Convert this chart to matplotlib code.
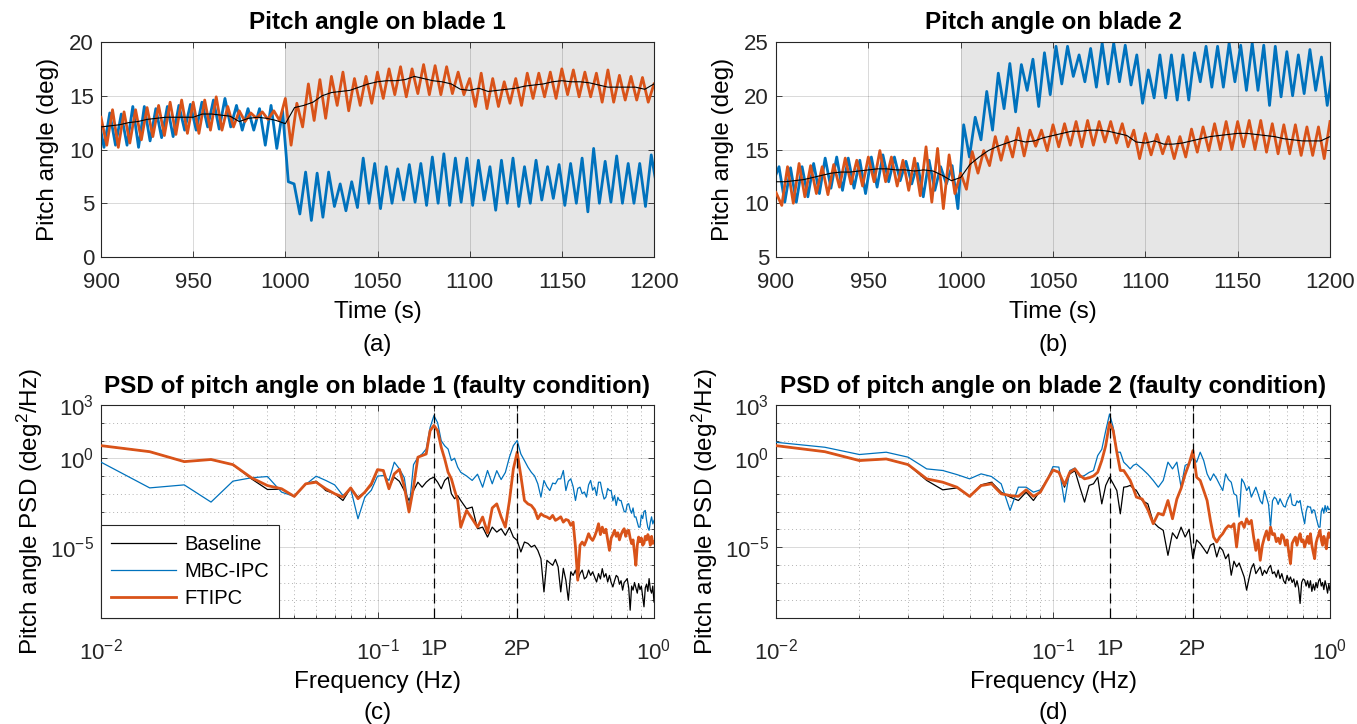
import numpy as np
import matplotlib
matplotlib.use("Agg")
import matplotlib.pyplot as plt

plt.rcParams["font.family"] = ["Liberation Sans", "DejaVu Sans"]
plt.rcParams["mathtext.fontset"] = "custom"
plt.rcParams["mathtext.rm"] = "Liberation Sans"
plt.rcParams["mathtext.it"] = "Liberation Sans:italic"
plt.rcParams["mathtext.bf"] = "Liberation Sans:bold"

#----------------------------------------------------------------
# Time series data (deg)
#----------------------------------------------------------------
t_ft = 900 + 3.125 * np.arange(97)       # FTIPC sample times
t_mbc = 898.5 + 3.125 * np.arange(98)    # MBC-IPC sample times
t_base = np.arange(900, 1201, 5)         # baseline sample times

ft_b1 = [13.0, 10.4, 13.7, 10.2, 13.5, 10.6, 13.7, 10.9, 13.9, 11.2,
         14.1, 11.3, 14.4, 11.4, 14.6, 11.5, 14.4, 11.5, 14.6, 11.8,
         14.9, 11.8, 14.0, 12.1, 13.6, 12.6, 13.4, 12.9, 13.5, 12.8,
         13.6, 12.7, 14.75, 10.4, 14.3, 12.1, 16.1, 12.7, 16.5, 12.9,
         16.8, 14.1, 17.2, 13.6, 16.6, 14.1, 16.8, 14.3, 17.2, 14.75,
         17.5, 15.1, 17.7, 14.9, 17.5, 15.2, 17.9, 15.1, 17.8, 15.1,
         17.7, 15.2, 17.2, 15.1, 16.6, 14.0, 17.1, 13.8, 16.6, 14.0,
         16.3, 14.3, 16.6, 14.1, 17.1, 14.75, 17.1, 14.9, 17.2, 14.75,
         17.5, 15.1, 17.4, 14.9, 17.2, 14.9, 17.1, 14.4, 17.4, 14.4,
         16.9, 14.6, 16.8, 14.6, 16.7, 14.4, 16.1]

mbc_b1 = [13.0, 10.2, 13.4, 10.4, 13.3, 10.4, 14.0, 10.2, 14.0, 10.8,
          13.8, 11.1, 14.0, 11.2, 14.1, 11.8, 14.2, 11.8, 14.4, 12.1,
          14.6, 11.9, 14.75, 12.1, 14.1, 11.8, 13.8, 11.8, 13.8, 10.4,
          14.1, 10.1, 13.6, 7.0, 6.8, 4.0, 7.9, 3.4, 7.8, 3.7,
          7.9, 4.7, 6.8, 4.3, 7.0, 4.6, 9.2, 5.0, 8.7, 4.5,
          8.4, 5.0, 8.2, 5.3, 8.6, 5.1, 8.7, 4.8, 9.3, 5.0,
          9.6, 4.8, 9.2, 5.1, 9.2, 4.8, 9.0, 5.3, 8.4, 4.35,
          9.0, 5.0, 9.2, 4.7, 8.4, 5.0, 9.0, 5.3, 8.4, 5.45,
          8.6, 4.8, 8.7, 5.0, 9.2, 4.2, 10.1, 5.0, 8.9, 5.1,
          9.4, 5.0, 8.7, 5.0, 8.7, 4.7, 9.5, 6.4]

base_b1 = [12.1, 12.2, 12.3, 12.5, 12.6, 12.8, 12.9, 13.0, 13.0, 13.0,
           13.0, 13.3, 13.3, 13.2, 13.1, 12.6, 12.9, 13.0, 12.9, 12.7,
           12.4, 13.9, 14.1, 14.4, 15.0, 15.3, 15.4, 15.5, 15.8, 16.1,
           16.3, 16.4, 16.4, 16.5, 16.8, 16.6, 16.4, 16.3, 16.1, 15.6,
           15.5, 15.7, 15.4, 15.5, 15.6, 15.7, 15.9, 16.0, 16.1, 16.3,
           16.4, 16.3, 16.3, 16.2, 16.0, 15.8, 15.8, 15.8, 15.8, 15.6,
           16.1]

ft_b2 = [11.0, 9.8, 13.4, 10.0, 13.7, 10.6, 13.5, 10.9, 13.4, 10.8,
         13.6, 11.5, 14.2, 11.8, 14.0, 11.6, 14.3, 12.0, 14.9, 12.0,
         14.3, 11.6, 14.0, 11.2, 14.2, 10.7, 15.25, 10.1, 15.1, 9.5,
         14.5, 10.9, 12.8, 11.3, 14.8, 12.8, 14.9, 13.5, 16.2, 14.0,
         16.2, 14.3, 17.0, 14.4, 16.8, 15.3, 16.8, 14.9, 17.3, 15.25,
         17.4, 15.4, 17.6, 15.25, 17.7, 15.4, 17.6, 15.7, 17.6, 15.6,
         17.4, 15.25, 16.8, 14.15, 16.5, 14.5, 16.4, 14.6, 16.2, 14.15,
         16.2, 14.3, 16.9, 14.75, 17.1, 14.9, 17.4, 15.0, 17.6, 15.0,
         17.6, 15.25, 17.7, 15.0, 17.7, 14.75, 17.4, 14.6, 17.3, 14.6,
         17.3, 14.45, 17.1, 14.45, 17.1, 14.15, 17.6]

mbc_b2 = [12.0, 13.4, 10.1, 13.3, 10.1, 13.4, 10.6, 13.7, 10.9, 14.2,
          11.4, 14.3, 11.2, 14.2, 11.4, 14.0, 10.9, 14.3, 11.5, 14.5,
          12.0, 14.3, 12.1, 13.9, 11.8, 13.7, 10.6, 14.0, 11.2, 13.4,
          11.8, 13.5, 9.5, 17.3, 14.3, 18.0, 15.9, 20.4, 16.8, 22.1,
          18.8, 23.0, 18.5, 22.9, 20.5, 23.4, 19.0, 24.0, 20.1, 24.6,
          21.1, 24.6, 21.8, 23.8, 21.3, 24.4, 20.8, 24.9, 21.1, 24.9,
          21.3, 24.7, 21.0, 23.8, 19.3, 22.4, 19.8, 23.8, 19.8, 23.8,
          19.6, 23.8, 19.6, 24.0, 21.3, 24.6, 20.8, 24.6, 20.8, 24.9,
          21.3, 24.7, 20.5, 24.9, 20.5, 24.7, 19.1, 24.6, 19.9, 24.1,
          20.0, 23.8, 20.2, 24.3, 20.5, 23.6, 19.1, 22.5]

base_b2 = [12.0, 12.0, 12.1, 12.2, 12.4, 12.6, 12.8, 12.9, 12.9, 13.0,
           13.1, 13.2, 13.2, 13.1, 13.1, 13.0, 13.1, 13.0, 12.6, 12.1,
           12.4, 13.6, 14.3, 14.9, 15.3, 15.6, 15.9, 15.7, 15.8, 16.1,
           16.3, 16.5, 16.7, 16.7, 16.8, 16.8, 16.7, 16.5, 16.3, 15.7,
           15.6, 15.8, 15.5, 15.5, 15.6, 15.8, 16.0, 16.2, 16.3, 16.4,
           16.5, 16.5, 16.4, 16.3, 16.2, 16.0, 15.9, 15.8, 15.8, 15.8,
           16.2]

#----------------------------------------------------------------
# PSD data, stored as log10(deg^2/Hz)
#----------------------------------------------------------------
freq = np.concatenate([np.arange(10, 201, 5), np.arange(210, 1001, 10)]) / 1000.0

base_psd1 = [0.71, 0.37, -0.19, -0.07, -0.36, -1.16, -1.76, -1.74, -2.15, -1.44,
             -1.29, -1.82, -2.00, -2.38, -1.67, -2.19, -1.91, -1.53, -0.69, -0.69,
             -1.63, -1.07, -1.30, -1.82, -2.38, -1.82, -1.35, -1.63, -1.35, -1.16,
             -1.07, -1.35, -1.72, -1.25, -1.07, -2.00, -2.28, -2.10, -2.38,
             -2.85, -2.75, -3.97, -3.88, -4.44, -3.88, -4.16, -3.97, -4.34, -3.90,
             -4.44, -4.63, -5.28, -4.72, -4.80, -5.00, -4.90, -5.19, -5.66, -7.53,
             -5.75, -5.90, -6.03, -5.70, -6.12, -7.53, -6.20, -6.87, -8.00, -6.40,
             -6.60, -6.30, -6.87, -6.50, -6.30, -6.80, -6.69, -6.30, -6.60, -6.40,
             -6.70, -6.97, -6.50, -6.80, -6.22, -6.70, -6.50, -6.97, -6.60, -7.00,
             -7.25, -6.90, -6.60, -6.69, -7.10, -6.90, -7.43, -7.00, -6.90, -6.78,
             -7.30, -8.56, -7.20, -7.43, -7.00, -7.30, -7.60, -7.06, -7.40, -7.20,
             -7.80, -8.37, -7.30, -7.10, -7.50, -6.78, -7.40, -7.60, -7.20, -8.10]

mbc_psd1 = [-0.22, -1.67, -1.50, -2.47, -1.29, -1.10, -1.03, -1.91, -2.15, -1.48,
            -1.01, -1.25, -1.50, -2.10, -1.72, -3.41, -2.19, -1.80, -1.01, -0.97,
            -1.25, -0.22, -0.60, -1.10, -2.90, -0.36, 0.06, 0.24, 0.52, 1.74,
            2.40, 2.00, 0.99, 0.70, 0.52, -0.13, 0.00, -0.50, -0.79,
            -1.00, -1.25, -0.90, -1.63, -0.69, -1.44, -0.70, -1.20, -0.80, 0.06,
            0.71, 1.00, 0.24, -0.13, -0.50, -0.79, -1.00, -1.44, -2.19, -1.25,
            -1.60, -1.82, -1.40, -1.44, -1.16, -1.16, -0.69, -1.82, -1.30, -1.16,
            -1.60, -2.38, -1.70, -1.63, -2.00, -1.90, -2.19, -1.50, -1.25, -1.80,
            -1.63, -2.10, -1.35, -1.35, -1.90, -2.30, -2.19, -1.70, -1.82, -1.82,
            -2.40, -2.10, -2.66, -2.20, -2.38, -2.38, -2.70, -3.00, -3.03, -2.60,
            -2.56, -2.90, -3.10, -2.80, -3.31, -3.30, -3.60, -3.88, -3.88, -3.20,
            -3.40, -3.00, -2.94, -3.50, -3.90, -4.06, -3.60, -3.30, -3.70, -3.50]

ft_psd1 = [0.71, 0.37, -0.19, -0.07, -0.36, -1.10, -1.54, -1.72, -2.15, -1.44,
           -1.35, -1.72, -2.00, -2.19, -1.67, -2.28, -1.91, -1.44, -0.64, -0.69,
           -1.72, -0.88, -0.62, -1.60, -3.03, -1.63, 0.06, 0.15, 0.24, 1.55,
           1.85, 1.55, 0.62, -0.04, -0.79, -1.16, -1.80, -2.38, -3.88,
           -2.94, -3.41, -3.88, -3.31, -4.20, -2.80, -2.57, -3.30, -3.88, -2.40,
           -0.60, 0.34, -1.00, -2.38, -2.57, -2.66, -2.90, -3.41, -3.13, -3.25,
           -3.31, -3.41, -3.22, -3.50, -3.41, -3.30, -3.60, -3.45, -3.50, -3.78,
           -3.60, -5.00, -6.87, -4.90, -4.72, -4.90, -4.60, -4.25, -4.50, -4.63,
           -4.40, -4.10, -3.69, -4.30, -3.88, -4.20, -4.00, -4.60, -5.19, -4.50,
           -4.30, -4.06, -4.40, -4.20, -4.60, -4.30, -4.10, -3.97, -4.40, -4.10,
           -4.06, -4.50, -4.81, -4.60, -5.30, -6.03, -4.90, -4.44, -4.70, -4.50,
           -4.90, -4.80, -4.40, -4.60, -4.30, -4.50, -4.90, -4.40, -4.80, -4.72]

base_psd2 = [0.71, 0.37, -0.13, -0.04, -0.36, -1.25, -1.78, -1.67, -2.15, -1.50,
             -1.35, -1.91, -2.19, -2.38, -1.91, -2.38, -1.82, -1.25, -0.66, -0.79,
             -1.63, -0.88, -0.70, -1.63, -2.47, -1.53, -1.44, -1.07, -2.57, -1.53,
             -1.07, -1.44, -1.82, -3.13, -1.63, -1.60, -1.53, -1.70, -1.82,
             -2.38, -2.57, -3.60, -3.88, -4.06, -5.47, -4.20, -4.53, -3.88, -4.44,
             -4.00, -5.66, -4.60, -4.81, -5.09, -5.37, -4.90, -4.80, -5.56, -5.00,
             -5.19, -5.66, -5.40, -6.59, -5.80, -6.12, -5.90, -6.30, -6.69, -7.43,
             -6.78, -6.20, -5.94, -6.50, -6.30, -6.12, -6.60, -6.31, -6.50, -6.20,
             -6.03, -6.50, -6.40, -6.70, -6.30, -6.78, -6.50, -6.90, -7.06, -6.60,
             -6.90, -6.69, -7.00, -6.80, -7.25, -6.90, -7.30, -8.18, -7.00, -6.80,
             -6.87, -7.20, -6.90, -7.30, -6.90, -7.50, -7.10, -7.43, -7.00, -7.30,
             -6.90, -6.78, -7.20, -7.00, -7.40, -6.90, -7.20, -7.60, -7.10, -7.43]

mbc_psd2 = [0.90, 0.62, 0.21, 0.34, 0.06, -0.60, -0.69, -0.92, -1.16, -0.88,
            -1.03, -1.44, -2.94, -1.63, -1.63, -1.91, -1.78, -1.25, -0.47, -0.50,
            -2.47, -0.69, -0.55, -1.07, -0.97, -0.80, -0.69, 0.15, 0.50, 1.55,
            2.49, 1.74, 0.34, 0.34, -0.22, -0.40, -0.60, -0.40, -0.32,
            -0.60, -0.90, -1.25, -1.63, -1.25, -0.22, -0.60, -0.22, -1.63, -0.40,
            -0.30, 0.06, -0.22, 0.34, -0.13, -0.88, -1.25, -0.88, -1.16, -1.50,
            -1.82, -0.88, -1.20, -1.35, -2.00, -2.10, -3.31, -1.16, -1.40, -1.82,
            -1.60, -2.19, -1.90, -1.63, -2.00, -2.40, -2.57, -1.82, -2.20, -2.60,
            -3.88, -2.40, -2.19, -2.30, -2.60, -2.28, -2.50, -2.70, -2.75, -2.40,
            -2.20, -2.00, -2.60, -2.66, -2.66, -2.40, -2.50, -2.38, -2.90, -3.30,
            -3.69, -3.00, -2.70, -2.75, -2.75, -3.10, -2.90, -2.94, -3.30, -3.60,
            -3.88, -3.88, -3.00, -2.80, -3.10, -2.66, -3.00, -2.70, -2.90, -2.85]

ft_psd2 = [0.71, 0.37, -0.13, -0.04, -0.36, -1.16, -1.35, -1.63, -2.15, -1.54,
           -1.44, -2.00, -2.10, -2.15, -1.78, -2.15, -1.91, -1.25, -0.66, -0.79,
           -1.50, -0.79, -0.60, -0.97, -1.16, -1.10, -1.00, -0.79, -0.13, 0.71,
           2.02, 1.55, 0.34, -0.69, -0.69, -0.97, -1.25, -1.70, -2.19,
           -2.30, -2.90, -3.69, -3.10, -3.20, -2.38, -3.41, -2.30, -1.70, -0.90,
           -0.30, 0.43, -1.07, -1.25, -1.82, -2.38, -3.50, -4.44, -4.72, -4.44,
           -4.25, -3.97, -3.80, -3.88, -3.69, -5.00, -3.70, -3.60, -3.90, -3.41,
           -3.70, -3.50, -4.44, -5.19, -4.60, -5.75, -4.90, -4.44, -4.10, -4.60,
           -3.88, -4.30, -4.25, -4.70, -4.50, -4.81, -4.30, -4.44, -4.90, -4.60,
           -5.30, -5.94, -4.80, -4.60, -4.44, -4.90, -4.50, -4.25, -4.70, -4.60,
           -5.00, -4.70, -4.40, -4.80, -4.25, -4.90, -5.30, -5.66, -4.80, -4.50,
           -4.30, -4.06, -4.60, -4.90, -4.40, -4.63, -5.10, -4.50, -4.20, -4.44]

f_1p = 0.16
f_2p = 0.32

#----------------------------------------------------------------
# Styling
#----------------------------------------------------------------
c_base = "black"
c_mbc = "#0072BD"
c_ft = "#D95319"
axis_color = "#262626"


def style_axes(ax, xpad):
    ax.set_facecolor("white")
    for s in ax.spines.values():
        s.set_color(axis_color)
        s.set_linewidth(0.8)
    ax.tick_params(which="both", direction="in", top=True, right=True,
                   colors=axis_color, labelsize=16, width=0.6)
    ax.tick_params(axis="y", pad=5)
    ax.tick_params(axis="x", pad=xpad)
    ax.tick_params(which="major", length=4.5)
    ax.tick_params(which="minor", length=2.5)
    ax.set_axisbelow(True)


fig = plt.figure(figsize=(13.57, 7.24), dpi=100)

W, H = 1357.0, 724.0
pos = {
    "a": [101 / W, 1 - 257 / H, 553 / W, 215 / H],
    "b": [776 / W, 1 - 257 / H, 554 / W, 215 / H],
    "c": [101 / W, 1 - 618 / H, 553 / W, 213 / H],
    "d": [776 / W, 1 - 618 / H, 554 / W, 213 / H],
}

#----------------------------------------------------------------
# Top row: pitch angle time series
#----------------------------------------------------------------
ts = [
    ("a", "Pitch angle on blade 1", ft_b1, mbc_b1, base_b1, (0, 20), [0, 5, 10, 15, 20]),
    ("b", "Pitch angle on blade 2", ft_b2, mbc_b2, base_b2, (5, 25), [5, 10, 15, 20, 25]),
]

for key, title, ft, mbc, base, ylim, yt in ts:
    ax = fig.add_axes(pos[key])
    style_axes(ax, xpad=11)
    ax.axvspan(1000, 1200, color="#e6e6e6", zorder=0.1, lw=0)
    ax.grid(True, color="k", alpha=0.15, lw=0.7)
    ax.plot(t_mbc, mbc, color=c_mbc, lw=2.0, zorder=2)
    ax.plot(t_ft, ft, color=c_ft, lw=2.0, zorder=3)
    ax.plot(t_base, base, color=c_base, lw=0.8, zorder=4)
    ax.set_xlim(900, 1200)
    ax.set_ylim(*ylim)
    ax.set_xticks(np.arange(900, 1201, 50))
    ax.set_yticks(yt)
    ax.set_title(title, fontsize=17.5, fontweight="bold", pad=9)
    ax.set_xlabel("Time (s)", fontsize=17.5, va="center")
    ax.xaxis.set_label_coords(0.5, -0.255)
    ax.set_ylabel("Pitch angle (deg)", fontsize=17.5, va="center")
    ax.yaxis.set_label_coords(-0.096, 0.5)
    ax.text(0.5, -0.41, "(" + key + ")", transform=ax.transAxes,
            ha="center", va="center", fontsize=17.5)

#----------------------------------------------------------------
# Bottom row: PSD of pitch angle
#----------------------------------------------------------------
psd = [
    ("c", "PSD of pitch angle on blade 1 (faulty condition)", base_psd1, mbc_psd1, ft_psd1),
    ("d", "PSD of pitch angle on blade 2 (faulty condition)", base_psd2, mbc_psd2, ft_psd2),
]

x_minor = [m * 10.0 ** e for e in (-2, -1) for m in range(2, 10)]
y_minor = [10.0 ** e for e in range(-9, 3) if e not in (-5, 0)]

for key, title, base, mbc, ft in psd:
    ax = fig.add_axes(pos[key])
    style_axes(ax, xpad=15)
    ax.set_xscale("log")
    ax.set_yscale("log")
    ax.plot(freq, 10.0 ** np.array(base), color=c_base, lw=0.9, label="Baseline", zorder=2)
    ax.plot(freq, 10.0 ** np.array(mbc), color=c_mbc, lw=0.9, label="MBC-IPC", zorder=3)
    ax.plot(freq, 10.0 ** np.array(ft), color=c_ft, lw=2.0, label="FTIPC", zorder=4)
    ax.axvline(f_1p, color="black", lw=0.9, ls=(0, (8, 4)), zorder=5)
    ax.axvline(f_2p, color="black", lw=0.9, ls=(0, (8, 4)), zorder=5)
    ax.set_xlim(0.01, 1.0)
    ax.set_ylim(1e-9, 1e3)
    ax.set_xticks([0.01, 0.1, f_1p, f_2p, 1.0])
    ax.set_xticklabels(["$10^{-2}$", "$10^{-1}$", "1P", "2P", "$10^{0}$"])
    ax.set_xticks(x_minor, minor=True)
    ax.set_xticklabels([], minor=True)
    ax.set_yticks([1e-5, 1e0, 1e3])
    ax.set_yticklabels(["$10^{-5}$", "$10^{0}$", "$10^{3}$"])
    ax.set_yticks(y_minor, minor=True)
    ax.set_yticklabels([], minor=True)
    ax.grid(True, which="major", color="k", alpha=0.15, lw=0.7)
    ax.grid(True, which="minor", color="k", alpha=0.3, lw=0.7, ls=(0, (1, 3)))
    ax.set_title(title, fontsize=17.5, fontweight="bold", pad=9)
    ax.set_xlabel("Frequency (Hz)", fontsize=17.5, va="center")
    ax.xaxis.set_label_coords(0.5, -0.30)
    ax.set_ylabel("Pitch angle PSD (deg$^2$/Hz)", fontsize=17.5, va="center")
    ax.yaxis.set_label_coords(-0.128, 0.5)
    ax.text(0.5, -0.445, "(" + key + ")", transform=ax.transAxes,
            ha="center", va="center", fontsize=17.5)
    if key == "c":
        leg = ax.legend(loc="lower left", fontsize=14.5, borderaxespad=0,
                        handlelength=3.2, handletextpad=0.45, fancybox=False,
                        framealpha=1, borderpad=0.5, labelspacing=0.4)
        leg.get_frame().set_edgecolor(axis_color)
        leg.get_frame().set_linewidth(0.8)
        leg.set_zorder(10)

fig.savefig("out.png", dpi=100)
